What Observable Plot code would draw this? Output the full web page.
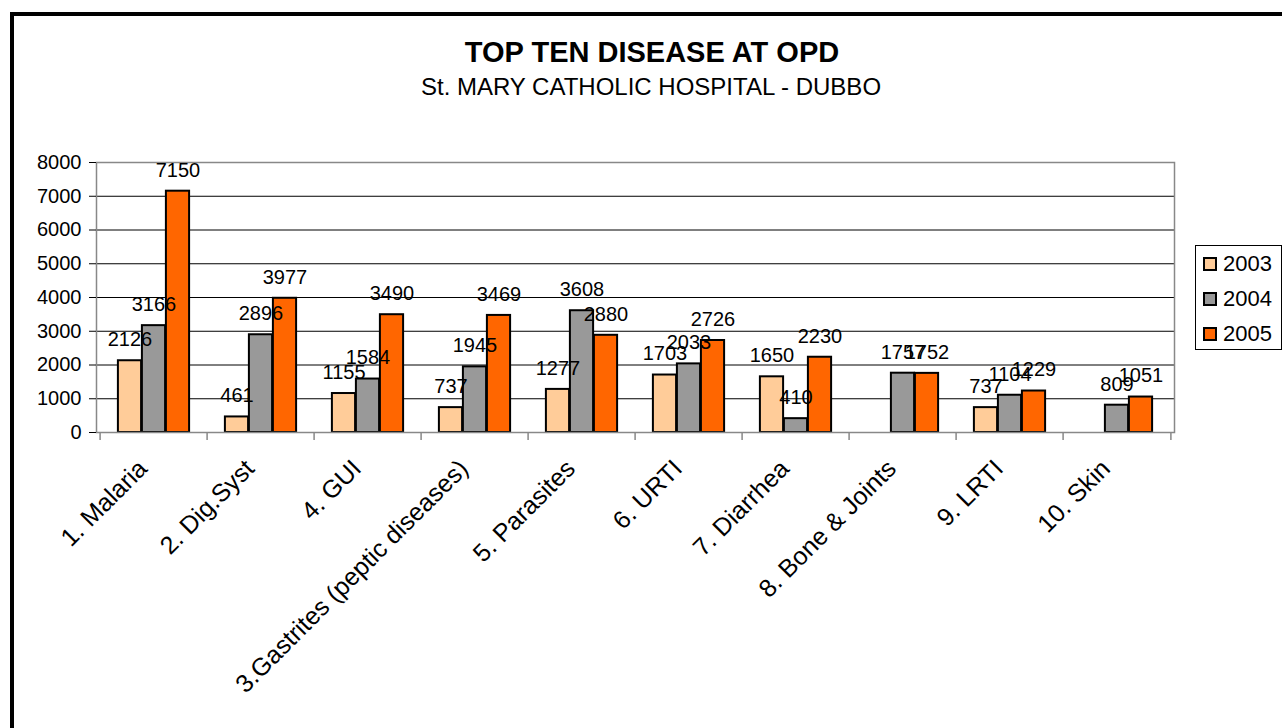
<!DOCTYPE html>
<html><head><meta charset="utf-8">
<script src="https://cdn.jsdelivr.net/npm/d3@7"></script>
<script src="https://cdn.jsdelivr.net/npm/@observablehq/plot@0.6"></script>
<style>
body{margin:0;background:#fff;font-family:"Liberation Sans",Arial,sans-serif;color:#000;}
#page{position:relative;width:1282px;height:728px;overflow:hidden;}
#frame{position:absolute;left:10px;top:12px;width:1300px;height:740px;border:4px solid #000;box-sizing:border-box;}
#title{position:absolute;left:0;top:35px;width:1304px;text-align:center;font-weight:bold;font-size:29px;line-height:34px;}
#subtitle{position:absolute;left:0;top:74px;width:1302px;text-align:center;font-size:24px;line-height:26px;}
#chart{position:absolute;left:0;top:140px;}
#legend{position:absolute;left:1195px;top:245px;width:87px;height:105px;border:1px solid #000;box-sizing:border-box;background:#fff;}
.item{position:absolute;left:7px;display:flex;align-items:center;font-size:22px;line-height:26px;}
.sw{width:10px;height:10px;border:2px solid #000;margin-right:6px;}
</style>
</head><body>
<div id="page">
  <div id="frame"></div>
  <div id="title">TOP TEN DISEASE AT OPD</div>
  <div id="subtitle">St. MARY CATHOLIC HOSPITAL - DUBBO</div>
  <div id="chart"></div>
  <div id="legend"></div>
</div>
<script>
const categories = ["1. Malaria","2. Dig.Syst","4. GUI","3.Gastrites (peptic diseases)","5. Parasites","6. URTI","7. Diarrhea","8. Bone & Joints","9. LRTI","10. Skin"];
const years = ["2003","2004","2005"];
const v2003 = [2126,461,1155,737,1277,1703,1650,null,737,null];
const v2004 = [3166,2896,1584,1945,3608,2033,410,1757,1104,809];
const v2005 = [7150,3977,3490,3469,2880,2726,2230,1752,1229,1051];
const yTicks = [0,1000,2000,3000,4000,5000,6000,7000,8000];
const colors = ["#FFCC99","#999999","#FF6600"];

const series = [v2003, v2004, v2005];
const rows = [];
years.forEach((yr,i)=>series[i].forEach((v,j)=>{ if(v!=null) rows.push({cat:categories[j], year:yr, value:v}); }));

const W=1282, H=588, ML=96, MR=108, MT=22, MB=296;
const bw=(W-ML-MR)/categories.length;
const barW=24;
const inset=(bw-barW)/2;

const chart = Plot.plot({
  width: W, height: H,
  marginLeft: ML, marginRight: MR, marginTop: MT, marginBottom: MB,
  style: {fontFamily: "Liberation Sans, Arial, sans-serif", fontSize: "20px", color: "#000", background: "transparent", overflow: "visible"},
  x: {type: "band", domain: categories, padding: 0},
  y: {domain: [0, 8000]},
  marks: [
    Plot.ruleY(yTicks.filter(v=>v>0 && v<8000), {stroke: "#000", strokeWidth: 1}),
    ...years.map((yr,i)=>Plot.barY(rows.filter(r=>r.year===yr), {
      x: "cat", y: "value", fill: colors[i], stroke: "#000", strokeWidth: 2,
      insetLeft: inset, insetRight: inset, dx: (i-1)*barW
    })),
    Plot.frame({stroke: "#888", strokeWidth: 1.5}),
    ...years.map((yr,i)=>Plot.text(rows.filter(r=>r.year===yr), {
      x: "cat", y: "value", text: d=>String(d.value), dx: (i-1)*barW, dy: -21, fontSize: 20, fill: "#000"
    })),
    Plot.axisY({ticks: yTicks, tickSize: 7, tickPadding: 8, fontSize: 20, tickFormat: d=>String(d), label: null}),
    Plot.axisX({tickSize: 0, tickRotate: -45, fontSize: 25, tickPadding: 32, dx: -11, label: null}),
    Plot.ruleX(categories, {x: d=>d, y1: 0, y2: 0, dx: -bw/2, insetBottom: -8, insetTop: 0, stroke: "#888", strokeWidth: 1.5}),
    Plot.ruleX([categories[categories.length-1]], {x: d=>d, y1: 0, y2: 0, dx: bw/2, insetBottom: -8, insetTop: 0, stroke: "#888", strokeWidth: 1.5})
  ]
});
document.getElementById("chart").appendChild(chart);

const legend = document.getElementById("legend");
years.forEach((yr,i)=>{
  const it = document.createElement("div");
  it.className = "item";
  it.style.top = (5 + i*35) + "px";
  const sw = document.createElement("div");
  sw.className = "sw";
  sw.style.background = colors[i];
  it.appendChild(sw);
  it.appendChild(document.createTextNode(yr));
  legend.appendChild(it);
});
</script>
</body></html>
